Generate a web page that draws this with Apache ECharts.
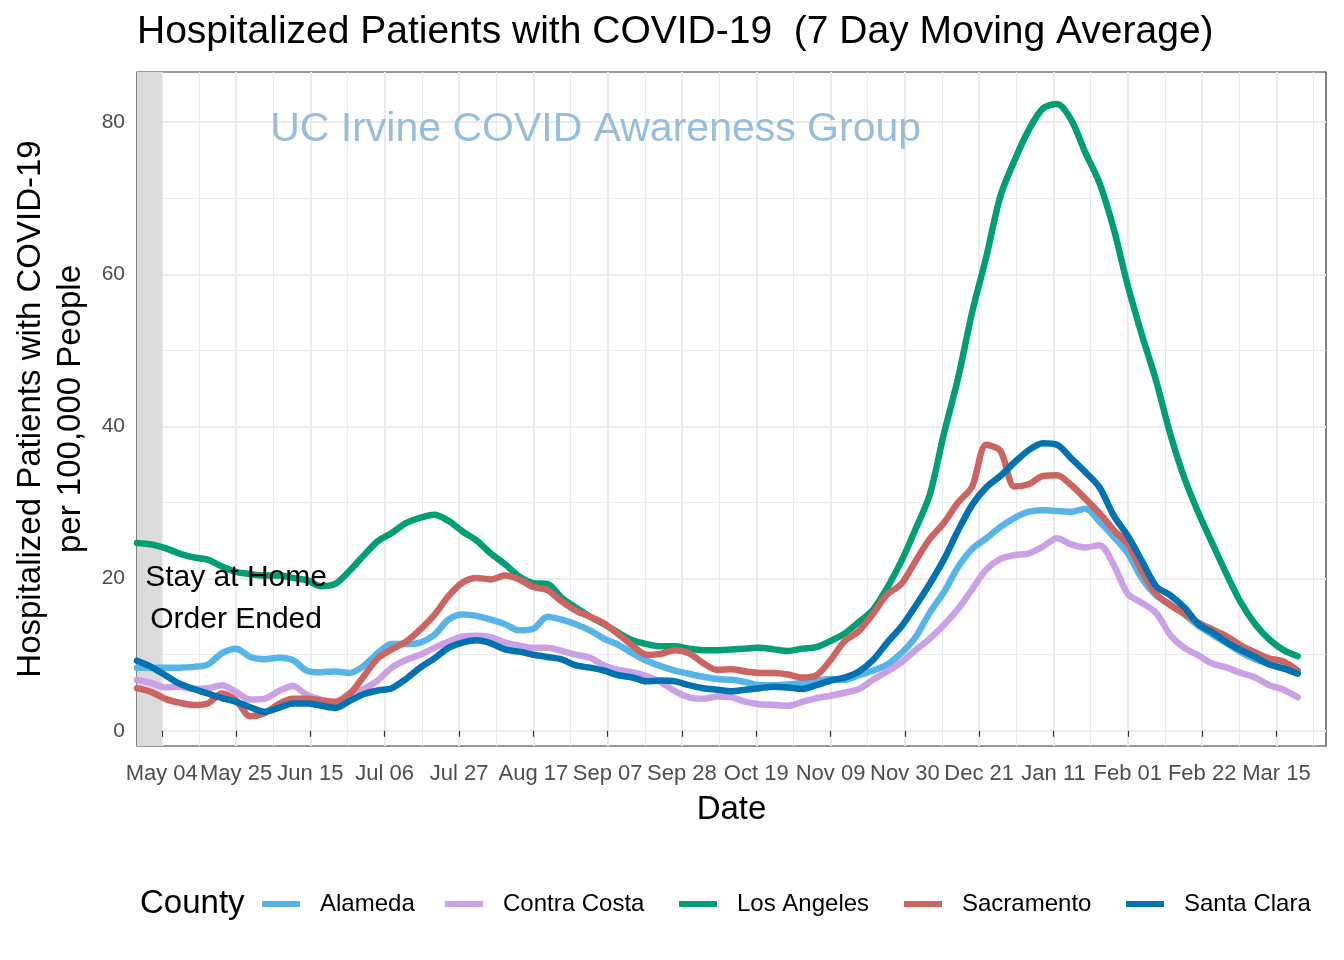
<!DOCTYPE html>
<html>
<head>
<meta charset="utf-8">
<script src="https://cdn.jsdelivr.net/npm/echarts/dist/echarts.min.js"></script>
<style>
html,body{margin:0;padding:0;background:#fff;}
#c{width:1344px;height:960px;}
</style>
</head>
<body>
<div id="c"></div>
<script>
// ---- data (days counted from 2020-05-04) ----
const days = [-7,-3,1,5,9,13,17,21,25,29,33,37,41,45,49,53,57,61,65,69,73,77,81,85,89,93,97,101,105,109,113,117,121,125,129,133,137,141,145,149,153,157,161,165,169,173,177,181,185,189,193,197,201,205,209,213,217,221,225,229,233,237,241,245,249,253,257,261,265,269,273,277,281,285,289,293,297,301,305,309,313,317,321];

const alameda = [8.3,8.3,8.3,8.3,8.4,8.7,10.2,10.8,9.7,9.4,9.6,9.3,7.9,7.7,7.8,7.6,8.5,10.2,11.4,11.4,11.6,12.6,14.6,15.3,15.1,14.6,14.0,13.2,13.4,15.0,14.6,14.0,13.2,12.1,11.3,10.2,9.2,8.5,7.9,7.5,7.1,6.8,6.7,6.4,6.0,6.0,6.1,6.3,6.6,6.8,6.7,7.3,7.9,8.7,10.2,12.3,15.5,18.2,21.5,23.9,25.3,26.8,28.0,28.8,29.0,28.9,28.8,29.2,27.5,25.5,23.3,20.0,17.8,16.6,15.3,13.8,12.6,11.5,10.3,9.4,8.8,8.2,7.8];

const contraCosta = [6.7,6.3,5.7,5.8,5.5,5.6,6.0,5.1,4.1,4.2,5.2,5.9,4.7,4.1,3.8,4.9,5.5,6.6,8.3,9.3,10.0,10.9,11.7,12.4,12.5,12.3,11.6,11.2,10.9,10.9,10.5,10.0,9.6,8.6,8.0,7.7,7.2,6.4,5.2,4.4,4.2,4.5,4.4,3.8,3.5,3.4,3.3,3.8,4.3,4.6,5.0,5.5,6.7,7.8,9.0,10.6,12.1,13.9,16.0,18.6,21.2,22.6,23.1,23.3,24.2,25.3,24.5,24.1,24.4,21.8,18.0,16.8,15.5,12.6,10.9,9.9,8.8,8.3,7.6,7.0,6.0,5.4,4.4];

const losAngeles = [24.7,24.5,24.0,23.3,22.8,22.5,21.6,20.9,20.6,20.4,20.4,20.1,19.8,19.0,19.3,21.0,23.0,24.9,26.0,27.3,28.0,28.4,27.6,26.2,25.0,23.3,21.9,20.3,19.4,19.3,17.5,16.2,15.0,14.0,12.9,11.9,11.4,11.1,11.1,10.8,10.6,10.6,10.7,10.8,10.9,10.7,10.5,10.8,11.0,11.8,12.8,14.3,15.9,18.8,22.3,26.5,31.0,39.0,46.3,55.0,62.3,70.3,75.0,79.0,81.8,82.4,80.3,76.0,72.0,66.0,58.5,52.0,46.0,39.0,33.2,28.6,24.5,20.5,16.8,14.0,12.0,10.6,9.8];

const sacramento = [5.6,5.1,4.2,3.7,3.4,3.6,4.9,4.0,1.9,2.3,3.5,4.2,4.2,4.0,3.8,4.8,7.1,9.5,10.7,11.7,13.3,15.2,17.7,19.5,20.1,19.9,20.4,19.9,18.9,18.5,17.0,15.8,15.0,14.1,12.7,11.2,10.0,10.1,10.6,10.2,8.9,8.0,8.1,7.8,7.6,7.6,7.4,7.0,7.3,9.3,11.8,13.1,15.4,17.9,19.3,22.3,25.2,27.3,30.0,32.1,37.6,36.8,32.1,32.4,33.5,33.6,32.3,30.5,28.6,26.4,24.5,21.0,18.0,16.5,15.4,14.2,13.3,12.4,11.2,10.3,9.5,9.1,7.9];

const santaClara = [9.2,8.4,7.3,6.2,5.5,4.9,4.3,3.8,3.1,2.5,3.0,3.6,3.6,3.3,3.0,3.9,4.8,5.3,5.6,6.8,8.3,9.5,10.9,11.6,11.9,11.5,10.7,10.4,10.0,9.7,9.4,8.6,8.3,7.9,7.3,7.0,6.5,6.6,6.5,6.0,5.6,5.4,5.2,5.4,5.6,5.8,5.7,5.5,6.0,6.6,7.0,7.8,9.3,11.6,13.7,16.4,19.3,22.5,26.3,29.7,32.0,33.5,35.3,36.9,37.8,37.6,35.8,34.0,32.0,28.3,25.6,22.3,19.0,17.8,16.2,14.0,12.9,11.6,10.6,9.7,8.7,8.2,7.5];

const counties = ['Alameda','Contra Costa','Los Angeles','Sacramento','Santa Clara'];
const colors = ['#56B4E9','#CBA1E6','#009E73','#CC6461','#0072B2'];
const seriesValues = [alameda, contraCosta, losAngeles, sacramento, santaClara];

const tickDays = [0,21,42,63,84,105,126,147,168,189,210,231,252,273,294,315];
const tickLabels = ['May 04','May 25','Jun 15','Jul 06','Jul 27','Aug 17','Sep 07','Sep 28','Oct 19','Nov 09','Nov 30','Dec 21','Jan 11','Feb 01','Feb 22','Mar 15'];
const yTicks = [0,20,40,60,80];
const stayHomeEnd = 0; // May 04

// ---- layout ----
const FONT = 'Liberation Sans, Arial, Helvetica, sans-serif';
const xMin = -7, xMax = 329, yMin = -2, yMax = 86.6;
const G = {left:137, top:72, width:1189, height:674};

const xMinor = tickDays.map(d => d + 10.5).filter(d => d < xMax);
const yMinor = yTicks.map(v => v + 10).filter(v => v < yMax);

const chart = echarts.init(document.getElementById('c'), null, {renderer:'canvas'});

const series = counties.map((name, i) => ({
  name: name,
  type: 'line',
  xAxisIndex: 0, yAxisIndex: 0,
  data: days.map((d, k) => [d, seriesValues[i][k]]),
  showSymbol: false,
  smooth: 0.3,
  lineStyle: {width: 6.5, color: colors[i], cap: 'round', join: 'round'},
  itemStyle: {color: colors[i]},
  z: 3 + i,
  animation: false
}));
series[0].markArea = {
  silent: true,
  itemStyle: {color: '#DBDBDB'},
  data: [[{xAxis: xMin}, {xAxis: stayHomeEnd}]]
};

const legends = counties.map((name, i) => ({
  data: [name],
  left: [262, 445, 679, 904, 1126][i],
  top: 892,
  padding: 0,
  icon: 'rect',
  itemWidth: 38,
  itemHeight: 6,
  selectedMode: false,
  textStyle: {fontSize: 24, color: '#000', fontFamily: FONT, padding: [0,0,0,15]}
}));

const option = {
  backgroundColor: '#ffffff',
  animation: false,
  grid: {left: G.left, top: G.top, width: G.width, height: G.height, show: true,
         borderColor: '#333333', borderWidth: 1.2, backgroundColor: 'transparent'},
  legend: legends,
  xAxis: [{
    type: 'value', min: xMin, max: xMax,
    axisLine: {show: false},
    axisTick: {show: true, length: 6, lineStyle: {color: '#333333', width: 1.2}, customValues: tickDays},
    axisLabel: {customValues: tickDays, margin: 17, fontSize: 22, color: '#4D4D4D', fontFamily: FONT,
      formatter: v => tickLabels[tickDays.indexOf(Math.round(v))] || ''},
    splitLine: {show: true, lineStyle: {color: '#EBEBEB', width: 2}}
  }, {
    type: 'value', min: xMin, max: xMax, position: 'bottom',
    axisLine: {show: false}, axisLabel: {show: false},
    axisTick: {show: false, customValues: xMinor},
    splitLine: {show: true, lineStyle: {color: '#EBEBEB', width: 1}}
  }],
  yAxis: [{
    type: 'value', min: yMin, max: yMax,
    axisLine: {show: false},
    axisTick: {show: true, length: 6, lineStyle: {color: '#333333', width: 1.2}, customValues: yTicks},
    axisLabel: {customValues: yTicks, margin: 12, fontSize: 21, color: '#4D4D4D', fontFamily: FONT},
    splitLine: {show: true, lineStyle: {color: '#EBEBEB', width: 2}}
  }, {
    type: 'value', min: yMin, max: yMax, position: 'left',
    axisLine: {show: false}, axisLabel: {show: false},
    axisTick: {show: false, customValues: yMinor},
    splitLine: {show: true, lineStyle: {color: '#EBEBEB', width: 1}}
  }],
  series: series
};
chart.setOption(option);

// annotations anchored to data coordinates
const pNote = chart.convertToPixel({gridIndex: 0}, [21, 17.3]);
const pMark = chart.convertToPixel({gridIndex: 0}, [122.6, 79]);

chart.setOption({
  graphic: [
    {type: 'text', x: 137, y: 32, z: 10,
     style: {text: 'Hospitalized Patients with COVID-19  (7 Day Moving Average)', fontSize: 39, fontFamily: FONT, fill: '#000', align: 'left', verticalAlign: 'middle'}},
    {type: 'text', x: pMark[0], y: pMark[1], z: 10,
     style: {text: 'UC Irvine COVID Awareness Group', fontSize: 41, fontFamily: FONT, fill: '#96BEDB', align: 'center', verticalAlign: 'middle'}},
    {type: 'text', x: pNote[0], y: pNote[1], z: 10,
     style: {text: 'Stay at Home\nOrder Ended', fontSize: 30, lineHeight: 42, fontFamily: FONT, fill: '#000', align: 'center', verticalAlign: 'middle'}},
    {type: 'text', x: 731.5, y: 810, z: 10,
     style: {text: 'Date', fontSize: 33, fontFamily: FONT, fill: '#000', align: 'center', verticalAlign: 'middle'}},
    {type: 'text', x: 31, y: 409, rotation: Math.PI / 2, z: 10,
     style: {text: 'Hospitalized Patients with COVID-19', fontSize: 33, fontFamily: FONT, fill: '#000', align: 'center', verticalAlign: 'middle'}},
    {type: 'text', x: 71, y: 409, rotation: Math.PI / 2, z: 10,
     style: {text: 'per 100,000 People', fontSize: 33, fontFamily: FONT, fill: '#000', align: 'center', verticalAlign: 'middle'}},
    {type: 'text', x: 140, y: 904, z: 10,
     style: {text: 'County', fontSize: 33, fontFamily: FONT, fill: '#000', align: 'left', verticalAlign: 'middle'}}
  ]
});
</script>
</body>
</html>
